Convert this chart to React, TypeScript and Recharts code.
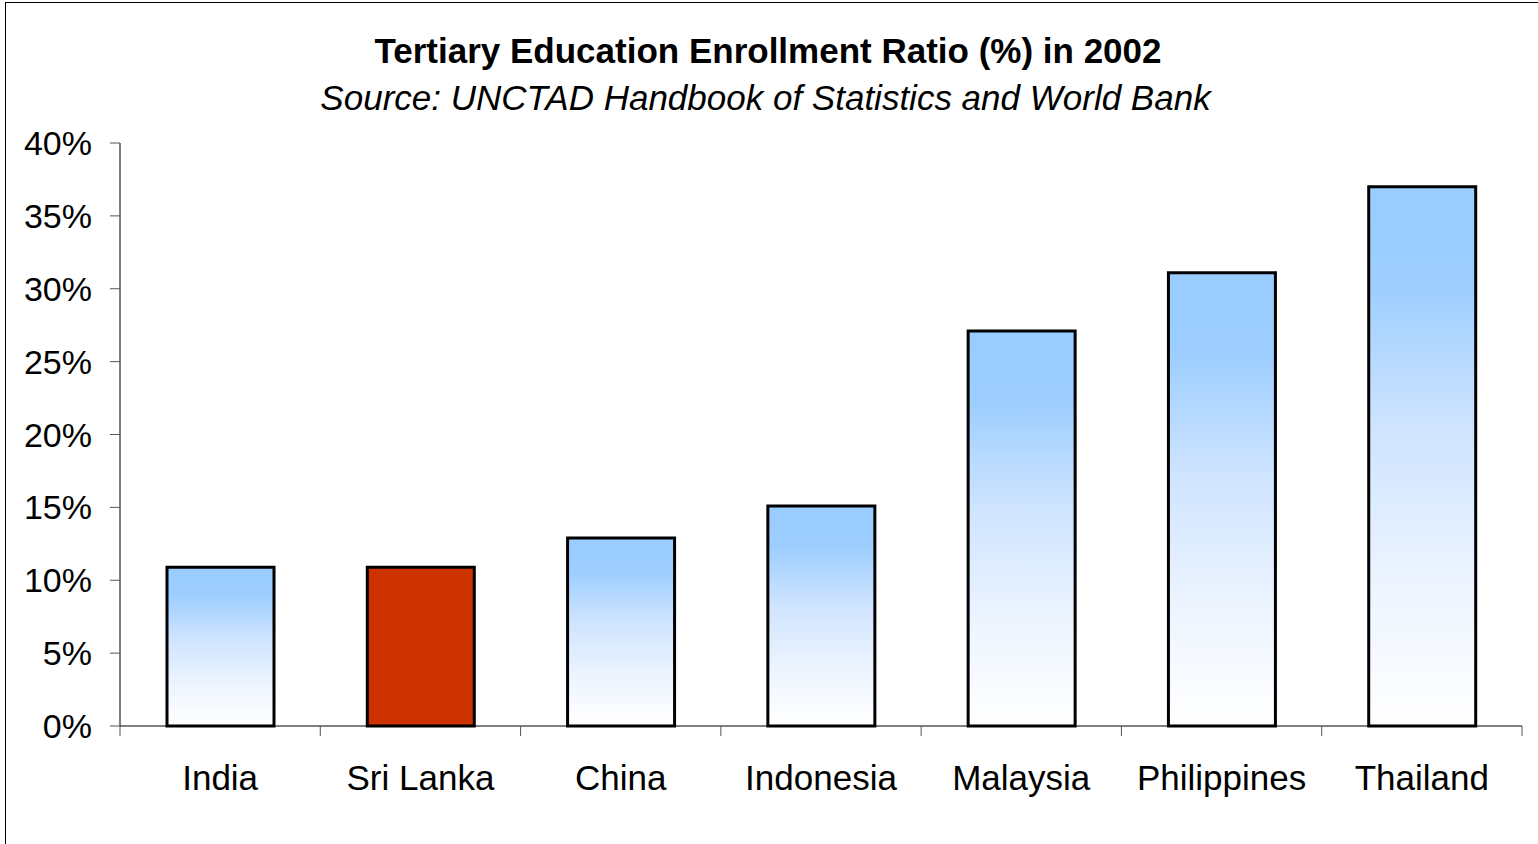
import { BarChart, Bar, XAxis, YAxis, Cell } from 'recharts'

const countries = ['India', 'Sri Lanka', 'China', 'Indonesia', 'Malaysia', 'Philippines', 'Thailand']
const ratios = [10.9, 10.9, 12.9, 15.1, 27.1, 31.1, 37.0]
const yTicks = [0, 5, 10, 15, 20, 25, 30, 35, 40]
const highlight = 'Sri Lanka'

const data = countries.map((name, i) => ({ name, value: ratios[i] }))

const FONT = '"Liberation Sans", Arial, sans-serif'

function CategoryTick(props: any) {
  const { x, y, payload, index, visibleTicksCount, width } = props
  const half = payload.offset || width / visibleTicksCount / 2
  const top = y - 39
  return (
    <g>
      <line x1={x - half} x2={x - half} y1={top} y2={top + 10} stroke="#555" strokeWidth={1} />
      {index === visibleTicksCount - 1 && (
        <line x1={x + half} x2={x + half} y1={top} y2={top + 10} stroke="#555" strokeWidth={1} />
      )}
      <text x={x} y={y} dy="0.71em" textAnchor="middle" fontSize={35} fill="#000" fontFamily={FONT}>
        {payload.value}
      </text>
    </g>
  )
}

export default function App() {
  return (
    <div style={{ position: 'absolute', left: 0, top: 0, width: 1538, height: 844, overflow: 'hidden', background: '#fff', fontFamily: FONT }}>
      <div style={{ position: 'absolute', left: 5, top: 2, width: 1700, height: 1000, border: '1.5px solid #000' }} />
      <div style={{ position: 'absolute', left: 0, width: 1536, top: 33, textAlign: 'center', fontSize: 35, lineHeight: '35px', fontWeight: 'bold', color: '#000' }}>
        Tertiary Education Enrollment Ratio (%) in 2002
      </div>
      <div style={{ position: 'absolute', left: 0, width: 1531, top: 80, textAlign: 'center', fontSize: 35, lineHeight: '35px', fontStyle: 'italic', color: '#000' }}>
        Source: UNCTAD Handbook of Statistics and World Bank
      </div>
      <div style={{ position: 'absolute', left: 0, top: 0 }}>
        <BarChart width={1538} height={844} data={data} margin={{ top: 143, right: 16, left: 0, bottom: 58 }} barSize={107}>
          <defs>
            <linearGradient id="blueFade" x1="0" y1="0" x2="0" y2="1">
              <stop offset="0%" stopColor="#99ccff" />
              <stop offset="18%" stopColor="#9dceff" />
              <stop offset="45%" stopColor="#cfe4ff" />
              <stop offset="75%" stopColor="#eef5ff" />
              <stop offset="100%" stopColor="#ffffff" />
            </linearGradient>
          </defs>
          <XAxis
            dataKey="name"
            height={60}
            axisLine={{ stroke: '#000', strokeWidth: 1 }}
            tickLine={false}
            tickSize={10}
            tickMargin={29}
            tick={<CategoryTick />}
            interval={0}
          />
          <YAxis
            width={120}
            domain={[0, 40]}
            ticks={yTicks}
            interval={0}
            tickFormatter={(v: number) => `${v}%`}
            axisLine={{ stroke: '#000', strokeWidth: 1 }}
            tickLine={{ stroke: '#555' }}
            tickSize={10}
            tickMargin={18}
            tick={{ fontSize: 34, fill: '#000', fontFamily: FONT }}
          />
          <Bar dataKey="value" stroke="#000" strokeWidth={3} isAnimationActive={false}>
            {data.map((d) => (
              <Cell key={d.name} fill={d.name === highlight ? '#cc3300' : 'url(#blueFade)'} />
            ))}
          </Bar>
        </BarChart>
      </div>
    </div>
  )
}
